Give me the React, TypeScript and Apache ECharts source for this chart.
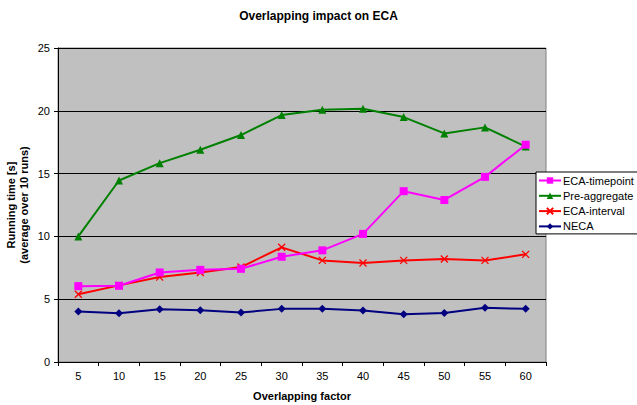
import React, { useEffect, useRef } from "react";
import * as echarts from "echarts";

const categories = ["5", "10", "15", "20", "25", "30", "35", "40", "45", "50", "55", "60"];
const ecaTimepoint = [6.04, 6.07, 7.13, 7.34, 7.42, 8.38, 8.89, 10.2, 13.6, 12.9, 14.74, 17.3];
const preAggregate = [10.0, 14.45, 15.83, 16.9, 18.07, 19.66, 20.09, 20.17, 19.5, 18.2, 18.68, 17.15];
const ecaInterval = [5.4, 6.1, 6.76, 7.13, 7.56, 9.13, 8.09, 7.88, 8.09, 8.2, 8.09, 8.57];
const neca = [4.02, 3.89, 4.2, 4.13, 3.94, 4.23, 4.23, 4.1, 3.8, 3.91, 4.31, 4.23];

const FONT = "'Liberation Sans', Arial, sans-serif";
const CROSS = "path://M0,0L10,10M10,0L0,10";

export default function App() {
  const ref = useRef<HTMLDivElement>(null);

  useEffect(() => {
    if (!ref.current) return;
    const chart = echarts.init(ref.current, undefined, { renderer: "svg" });
    const lineSeries = (name: string, data: number[], color: string, symbol: string, size: number) => ({
      name,
      type: "line",
      data,
      symbol,
      symbolSize: size,
      showAllSymbol: true,
      lineStyle: { color, width: 2 },
      itemStyle: { color, borderColor: color, borderWidth: symbol === CROSS ? 1.3 : 0 },
      emphasis: { disabled: true },
    });
    chart.setOption({
      animation: false,
      backgroundColor: "#ffffff",
      textStyle: { fontFamily: FONT },
      title: {
        text: "Overlapping impact on ECA",
        left: "center",
        top: 5,
        textStyle: { fontSize: 12, fontWeight: "bold", color: "#000", fontFamily: FONT },
      },
      grid: {
        left: 58,
        right: 91,
        top: 48,
        bottom: 43,
        outerBoundsMode: "none",
        containLabel: false,
        show: true,
        backgroundColor: "#C0C0C0",
        borderColor: "#808080",
        borderWidth: 1,
      },
      legend: {
        orient: "vertical",
        left: 536,
        top: 172,
        padding: [2, 40, 1, 2],
        itemGap: 2.3,
        itemWidth: 22,
        itemHeight: 8,
        backgroundColor: "#ffffff",
        borderColor: "#000",
        borderWidth: 1,
        borderRadius: 0,
        textStyle: { fontSize: 11, color: "#000", fontFamily: FONT, lineHeight: 13, padding: [0, 0, 0, -3] },
        data: ["ECA-timepoint", "Pre-aggregate", "ECA-interval", "NECA"],
      },
      xAxis: {
        type: "category",
        data: categories,
        boundaryGap: true,
        name: "Overlapping factor",
        nameLocation: "middle",
        nameGap: 28,
        nameMoveOverlap: false,
        nameTextStyle: { fontSize: 11, fontWeight: "bold", color: "#000", fontFamily: FONT },
        axisLine: { lineStyle: { color: "#000", width: 1 } },
        axisTick: { show: true, length: 4, lineStyle: { color: "#000" } },
        axisLabel: { fontSize: 11, color: "#000", margin: 8, fontFamily: FONT },
        splitLine: { show: false },
      },
      yAxis: {
        type: "value",
        min: 0,
        max: 25,
        interval: 5,
        name: "Running time [s]\n(average over 10 runs)",
        nameLocation: "middle",
        nameRotate: 90,
        nameGap: 28,
        nameMoveOverlap: false,
        nameTextStyle: { fontSize: 11, fontWeight: "bold", color: "#000", lineHeight: 13, fontFamily: FONT },
        axisLine: { show: true, lineStyle: { color: "#000", width: 1 } },
        axisTick: { show: true, length: 4, lineStyle: { color: "#000" } },
        axisLabel: { fontSize: 11, color: "#000", margin: 8, fontFamily: FONT },
        splitLine: { show: true, lineStyle: { color: "#000", width: 1 } },
      },
      series: [
        lineSeries("NECA", neca, "#000080", "diamond", 8),
        lineSeries("ECA-interval", ecaInterval, "#FF0000", CROSS, 7),
        lineSeries("Pre-aggregate", preAggregate, "#008000", "triangle", 8),
        lineSeries("ECA-timepoint", ecaTimepoint, "#FF00FF", "rect", 8),
      ],
    });
    return () => chart.dispose();
  }, []);

  return (
    <div
      ref={ref}
      style={{ position: "fixed", left: 0, top: 0, width: 637, height: 405 }}
    />
  );
}
